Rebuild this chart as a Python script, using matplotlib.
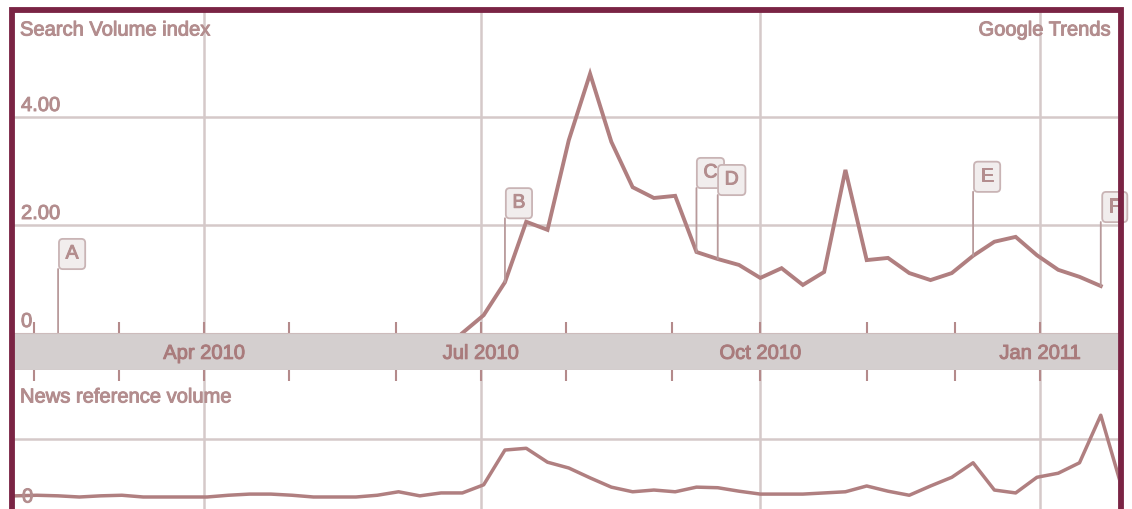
import numpy as np
import pandas as pd
import matplotlib
matplotlib.use("Agg")
import matplotlib.pyplot as plt
import matplotlib.dates as mdates
import matplotlib.patheffects as pe
from matplotlib.patches import Rectangle
from datetime import datetime

plt.rcParams["font.family"] = ["Liberation Sans", "DejaVu Sans"]

# weekly search volume index (starts late June 2010)
search_dates = pd.date_range("2010-06-25", periods=31, freq="7D")
search_vals = [0.0, 0.33, 0.94, 2.06, 1.91, 3.57, 4.80, 3.54, 2.70, 2.50,
               2.54, 1.50, 1.37, 1.26, 1.02, 1.20, 0.89, 1.13, 3.02, 1.35,
               1.39, 1.11, 0.98, 1.11, 1.43, 1.69, 1.78, 1.44, 1.17, 1.04, 0.87]

# weekly news reference volume
news_dates = pd.date_range("2010-01-29", periods=53, freq="7D")
news_vals = [0.02, 0.03, 0.02, 0.0, 0.02, 0.03, 0.0, 0.0, 0.0, 0.0,
             0.03, 0.05, 0.05, 0.03, 0.0, 0.0, 0.0, 0.03, 0.09, 0.02,
             0.07, 0.07, 0.21, 0.81, 0.84, 0.60, 0.50, 0.33, 0.17, 0.09,
             0.12, 0.09, 0.17, 0.16, 0.10, 0.05, 0.05, 0.05, 0.07, 0.09,
             0.19, 0.10, 0.03, 0.19, 0.34, 0.59, 0.12, 0.07, 0.34, 0.41,
             0.59, 1.41, 0.15]

flag_labels = ["A", "B", "C", "D", "E", "F"]
flag_dates = ["2010-02-12", "2010-07-09", "2010-09-10", "2010-09-17",
              "2010-12-10", "2011-01-21"]

major_dates = ["2010-04-01", "2010-07-01", "2010-10-01", "2011-01-01"]
major_labels = ["Apr 2010", "Jul 2010", "Oct 2010", "Jan 2011"]
minor_dates = ["2010-02-04", "2010-03-04", "2010-04-29", "2010-06-03",
               "2010-07-29", "2010-09-02", "2010-11-05", "2010-12-04"]

line_c = "#b07f80"
text_c = "#b38d8e"
grid_c = "#d5c9c9"
tick_c = "#b48a8b"
maroon = "#7a2444"
thick = [pe.withStroke(linewidth=0.7, foreground=text_c)]

W, H = 1132, 509
fig = plt.figure(figsize=(W / 100, H / 100), dpi=100)

x0, x1 = 14 / W, 1118 / W
ax_top = fig.add_axes([x0, 1 - 333 / H, x1 - x0, (333 - 12) / H])
ax_band = fig.add_axes([x0, 1 - 370 / H, x1 - x0, 37 / H])
ax_bot = fig.add_axes([x0, 0, x1 - x0, 1 - 370 / H])

xlim = (datetime(2010, 1, 28, 12), datetime(2011, 1, 26, 16))
majors = pd.to_datetime(major_dates)
minors = pd.to_datetime(minor_dates)
all_ticks = sorted(list(majors) + list(minors))

for ax in (ax_top, ax_band, ax_bot):
    ax.set_xlim(xlim)
    for s in ax.spines.values():
        s.set_visible(False)
    ax.set_yticks([])

# top panel
ax_top.set_ylim(0, 5.944)
for d in majors:
    ax_top.axvline(d, color=grid_c, lw=1.8, zorder=1)
    ax_bot.axvline(d, color=grid_c, lw=1.8, zorder=1)
for v in [2, 4]:
    ax_top.axhline(v, color=grid_c, lw=1.8, zorder=1)
ax_top.plot(search_dates, search_vals, color=line_c, lw=2.8, zorder=3,
            solid_joinstyle="miter")
ax_top.set_xticks(all_ticks)
ax_top.tick_params(axis="x", direction="in", length=8, width=1.5,
                   color=tick_c, labelbottom=False)

for v, lab in [(4, "4.00"), (2, "2.00"), (0, "0")]:
    ax_top.annotate(lab, xy=(0, v), xycoords=("axes fraction", "data"),
                    xytext=(7, 2), textcoords="offset pixels",
                    ha="left", va="bottom", fontsize=14.5, color=text_c,
                    path_effects=thick)
ax_top.text(6 / 1104, 1 - 18 / 321, "Search Volume index",
            transform=ax_top.transAxes, ha="left", va="center",
            fontsize=14.5, color=text_c, path_effects=thick)
ax_top.text(1 - 7 / 1104, 1 - 18 / 321, "Google Trends",
            transform=ax_top.transAxes, ha="right", va="center",
            fontsize=14.5, color=text_c, path_effects=thick)

# flags
fnum = mdates.date2num(pd.to_datetime(flag_dates))
snum = mdates.date2num(search_dates)
flag_y = np.interp(fnum, snum, search_vals, left=0.0)
for lab, fd, fy in zip(flag_labels, pd.to_datetime(flag_dates), flag_y):
    ax_top.annotate("", xy=(fd, fy), xytext=(0, 64), textcoords="offset pixels",
                    arrowprops=dict(arrowstyle="-", color="#b89a9b", lw=1.3,
                                    shrinkA=0, shrinkB=0),
                    annotation_clip=False, zorder=4)
    ax_top.annotate(lab, xy=(fd, fy), xytext=(14, 79),
                    textcoords="offset pixels", ha="center", va="center",
                    fontsize=14, color=text_c, path_effects=thick,
                    bbox=dict(boxstyle="round,pad=0.34,rounding_size=0.2",
                              fc="#f1eded", ec="#c9b4b5", lw=1.3),
                    annotation_clip=False, zorder=5)

# band with month labels
ax_band.set_facecolor("#d4cfcf")
ax_band.set_ylim(0, 1)
ax_band.set_xticks([])
ax_band.spines["top"].set_visible(True)
ax_band.spines["bottom"].set_visible(True)
ax_band.spines["top"].set_color("#cdbcbc")
ax_band.spines["bottom"].set_color("#cdbcbc")
for d, lab in zip(majors, major_labels):
    ax_band.text(d, 0.45, lab, ha="center", va="center", fontsize=14.5,
                 color="#a97b7c", path_effects=[pe.withStroke(linewidth=0.7,
                                                              foreground="#a97b7c")])

# bottom panel
ax_bot.set_ylim(-0.207, 2.19)
ax_bot.axhline(1.0, color=grid_c, lw=1.8, zorder=1)
ax_bot.plot(news_dates, news_vals, color=line_c, lw=2.5, zorder=3)
ax_bot.set_xticks(all_ticks)
ax_bot.tick_params(axis="x", direction="in", length=8, width=1.5,
                   color=tick_c, top=True, bottom=False, labelbottom=False)
ax_bot.annotate("0", xy=(0, 0), xycoords=("axes fraction", "data"),
                xytext=(8, 0), textcoords="offset pixels",
                ha="left", va="center", fontsize=14.5, color=text_c,
                path_effects=thick)
ax_bot.text(6 / 1104, 1 - 27 / 139, "News reference volume",
            transform=ax_bot.transAxes, ha="left", va="center",
            fontsize=14.5, color=text_c, path_effects=thick)

# outer maroon frame
frame = Rectangle((12 / W, -0.1), (1120.5 - 12) / W, 1.1 - 9.5 / H,
                  transform=fig.transFigure, fill=False, ec=maroon, lw=4.2,
                  zorder=20)
fig.add_artist(frame)

fig.savefig("out.png", dpi=100)
